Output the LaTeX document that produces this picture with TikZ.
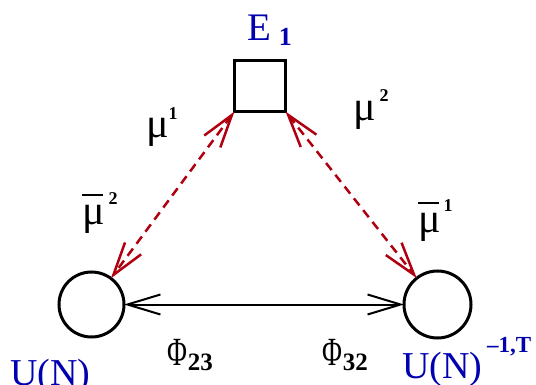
\documentclass[tikz,border=0pt]{standalone}
\usepackage{fontspec}
\setmainfont{Liberation Serif}
\usetikzlibrary{arrows.meta}
\definecolor{lblblue}{RGB}{0,0,176}
\definecolor{dred}{RGB}{176,0,16}
\tikzset{
  fieldbox/.style={draw, line width=3.3pt, minimum size=51pt, inner sep=0, outer sep=0},
  groupnode/.style={draw, circle, line width=3pt, inner sep=0, outer sep=0},
  lbl/.style={anchor=base west, inner sep=0, outer sep=0, font=\fontsize{38}{38}\selectfont},
  bluelbl/.style={lbl, text=lblblue},
  barb/.style={{Straight Barb[length=33pt,width=20pt]}-{Straight Barb[length=33pt,width=20pt]}},
  meson/.style={barb, line width=2.5pt, dash pattern=on 9pt off 6pt, dred},
  bifund/.style={barb, line width=2pt, black},
}
\newcommand{\mumu}{{\fontsize{42}{42}\selectfont μ}}
\newcommand{\mubar}{\rlap{\raisebox{29pt}{\rule{21pt}{1.8pt}}}\mumu}
\newcommand{\supb}[2]{\raisebox{#1}{\fontsize{18}{18}\selectfont\bfseries #2}}
\newcommand{\subb}[2]{\raisebox{#1}{\fontsize{25}{25}\selectfont\bfseries #2}}
\newcommand{\Phii}{\scalebox{0.68}[1]{\fontsize{40}{40}\selectfont Φ}}
\begin{document}
\begin{tikzpicture}[x=1pt,y=-1pt]
\useasboundingbox (0,0) rectangle (536,385);
% nodes
\node[fieldbox] (E) at (260,86) {};
\node[groupnode, minimum size=65pt] (L) at (91.5,304.5) {};
\node[groupnode, minimum size=67pt] (R) at (437.5,304.5) {};
% connectors
\draw[meson] (E.south west) -- (L);
\draw[meson] (E.south east) -- (R);
\draw[bifund] (L) -- (R);
% labels
\node[bluelbl] (lE) at (247,41) {\fontsize{39}{39}\selectfont E\hspace{8pt}\raisebox{-5pt}{\fontsize{26}{26}\selectfont\bfseries 1}};
\node[lbl] (mu1) at (146,138) {\mumu\hspace{0pt}\supb{18pt}{1}};
\node[lbl] (mu2) at (353,121) {\mumu\hspace{4pt}\supb{19pt}{2}};
\node[lbl] (mub2) at (82,225) {\mubar\hspace{4pt}\supb{20pt}{2}};
\node[lbl] (mub1) at (418,233) {\mubar\hspace{3pt}\supb{21pt}{1}};
\node[lbl] (phi23) at (167,365) {\Phii\hspace{1pt}\subb{-5pt}{23}};
\node[lbl] (phi32) at (322,365) {\Phii\hspace{1pt}\subb{-5pt}{32}};
\node[bluelbl] (uL) at (10,385) {U(N)};
\node[bluelbl] (uR) at (402,378) {U(N)\hspace{5pt}\raisebox{26pt}{\fontsize{23}{23}\selectfont\bfseries –1,T}};
\end{tikzpicture}
\end{document}
